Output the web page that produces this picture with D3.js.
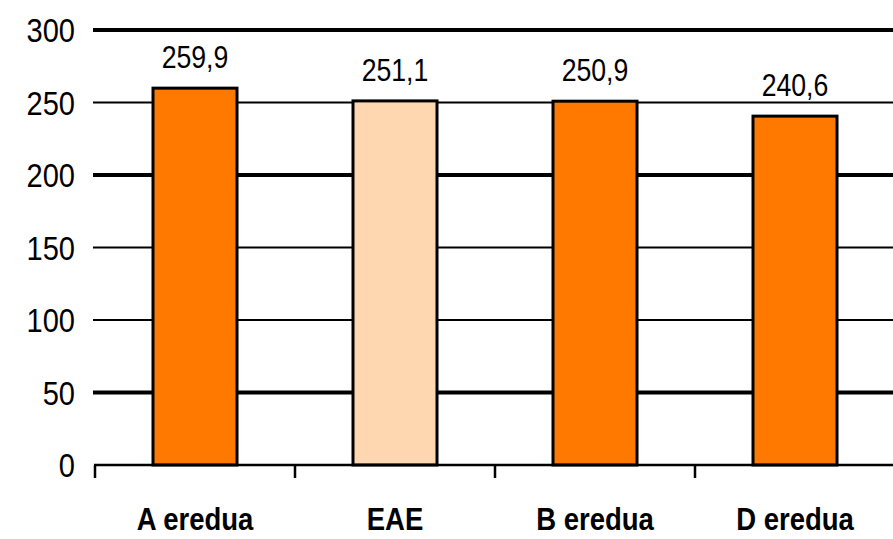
<!DOCTYPE html>
<html>
<head>
<meta charset="utf-8">
<script src="https://cdn.jsdelivr.net/npm/d3@7"></script>
<style>
  html, body { margin: 0; padding: 0; background: #fff; }
  svg { display: block; }
  text { font-family: "Liberation Sans", Arial, sans-serif; fill: #000; }
</style>
</head>
<body>
<script>
// ---- data ----
const categories = ["A eredua", "EAE", "B eredua", "D eredua"];
const values = [259.9, 251.1, 250.9, 240.6];
const valueLabels = ["259,9", "251,1", "250,9", "240,6"];
const highlight = [false, true, false, false];
const yTicks = [0, 50, 100, 150, 200, 250, 300];
const thickGrid = [300, 200, 50];

const W = 893, H = 539;
const svg = d3.select("body").append("svg").attr("width", W).attr("height", H);

const x = d3.scaleBand().domain(categories).range([95, 895])
  .paddingInner(0.58).paddingOuter(0.29);
const y = d3.scaleLinear().domain([0, 300]).range([465, 30]);

// gridlines
svg.append("g").selectAll("line")
  .data(yTicks.filter(d => d > 0))
  .join("line")
  .attr("x1", 93).attr("x2", W)
  .attr("y1", d => y(d)).attr("y2", d => y(d))
  .attr("stroke", "#000")
  .attr("stroke-width", d => thickGrid.includes(d) ? 4 : 2);

// y-axis labels
svg.append("g").selectAll("text")
  .data(yTicks)
  .join("text")
  .attr("text-anchor", "end")
  .attr("font-size", 33)
  .attr("transform", d => `translate(75,${y(d) + 12}) scale(0.88,1)`)
  .text(d => d);

// bars
svg.append("g").selectAll("rect")
  .data(values)
  .join("rect")
  .attr("x", (d, i) => x(categories[i]))
  .attr("width", x.bandwidth())
  .attr("y", d => y(d))
  .attr("height", d => y(0) - y(d))
  .attr("fill", (d, i) => highlight[i] ? "#FED6B0" : "#FF7800")
  .attr("stroke", "#000")
  .attr("stroke-width", 3);

// value labels
svg.append("g").selectAll("text")
  .data(values)
  .join("text")
  .attr("text-anchor", "middle")
  .attr("font-size", 31)
  .attr("transform", (d, i) => `translate(${x(categories[i]) + x.bandwidth() / 2},${y(d) - 20}) scale(0.86,1)`)
  .text((d, i) => valueLabels[i]);

// x axis line and ticks
svg.append("line")
  .attr("x1", 94).attr("x2", W)
  .attr("y1", y(0)).attr("y2", y(0))
  .attr("stroke", "#000").attr("stroke-width", 2.5);
const step = x.step();
const boundaries = d3.range(categories.length + 1).map(i => x.range()[0] + i * step);
svg.append("g").selectAll("line")
  .data(boundaries)
  .join("line")
  .attr("x1", d => d).attr("x2", d => d)
  .attr("y1", y(0)).attr("y2", y(0) + 13)
  .attr("stroke", "#000").attr("stroke-width", 2.5);

// category labels
svg.append("g").selectAll("text")
  .data(categories)
  .join("text")
  .attr("text-anchor", "middle")
  .attr("font-size", 32)
  .attr("font-weight", "bold")
  .attr("transform", d => `translate(${x(d) + x.bandwidth() / 2},530) scale(0.86,1)`)
  .text(d => d);
</script>
</body>
</html>
